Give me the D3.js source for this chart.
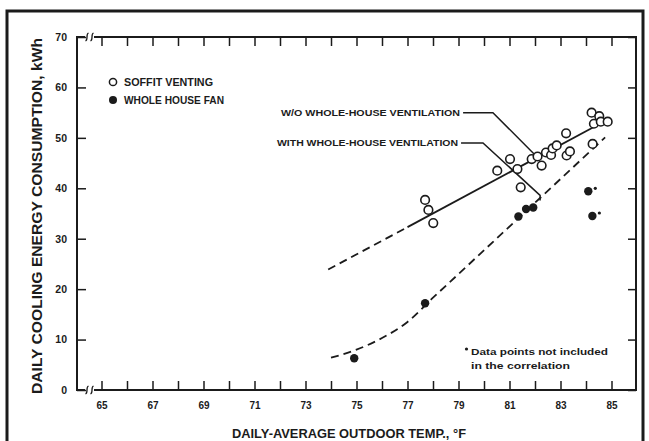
<!DOCTYPE html>
<html>
<head>
<meta charset="utf-8">
<script src="https://cdn.jsdelivr.net/npm/d3@7"></script>
<style>
  body { margin: 0; background: #fff; }
  text { font-family: "Liberation Sans", Arial, sans-serif; fill: #1b1b1b; }
</style>
</head>
<body>
<div id="chart"></div>
<script>
// Soffit venting (open circles)
const soffitTemp = [77.69, 77.82, 78.01, 80.52, 81.02, 81.31, 81.44, 81.87, 82.1, 82.26, 82.43, 82.63,
                    82.69, 82.85, 83.22, 83.24, 83.37, 84.26, 84.22, 84.52, 84.31, 84.58, 84.85];
const soffitKwh  = [37.7, 35.7, 33.1, 43.5, 45.8, 43.8, 40.2, 45.8, 46.3, 44.5, 47.1, 46.6,
                    47.9, 48.5, 50.9, 46.5, 47.3, 48.8, 55.0, 54.3, 52.8, 53.2, 53.2];

// Whole house fan (filled circles)
const fanTemp = [74.91, 77.69, 81.35, 81.65, 81.93];
const fanKwh  = [6.3, 17.2, 34.4, 35.9, 36.2];

// Fan points not included in the correlation
const excludedTemp = [84.09, 84.25];
const excludedKwh  = [39.4, 34.5];

// Correlation lines
const withoutVentTemp = [73.89, 77.0, 84.29];
const withoutVentKwh  = [23.9, 32.3, 52.1];
const withVentTemp = [74, 75, 76, 77, 78, 79, 84.75];
const withVentKwh  = [6.4, 8.0, 10.3, 13.5, 18.3, 23.0, 50.1];

// Axis ticks
const tempTicks = d3.range(65, 86);
const tempLabels = [65, 67, 69, 71, 73, 75, 77, 79, 81, 83, 85];
const kwhTicks = [0, 10, 20, 30, 40, 50, 60, 70];

const width = 649;
const height = 441;
const ink = "#1b1b1b";

const svg = d3.select("#chart").append("svg")
  .attr("width", width)
  .attr("height", height);

svg.append("rect").attr("width", width).attr("height", height).attr("fill", "#fff");

// outer border
svg.append("rect")
  .attr("x", 7).attr("y", 11)
  .attr("width", 636).attr("height", 445)
  .attr("fill", "none").attr("stroke", ink).attr("stroke-width", 3);

const plot = { left: 77, right: 636, top: 37, bottom: 390 };

const x = d3.scaleLinear().domain([65, 85]).range([101.5, 611.5]);
const y = d3.scaleLinear().domain([0, 70]).range([plot.bottom, plot.top]);

// plot frame
svg.append("rect")
  .attr("x", plot.left).attr("y", plot.top)
  .attr("width", plot.right - plot.left).attr("height", plot.bottom - plot.top)
  .attr("fill", "none").attr("stroke", ink).attr("stroke-width", 2);

// axis breaks
[plot.bottom, plot.top].forEach(yy => {
  svg.append("rect").attr("x", 85).attr("y", yy - 3).attr("width", 10).attr("height", 6).attr("fill", "#fff");
  [86.5, 91.5].forEach(xx => {
    svg.append("path")
      .attr("d", `M${xx - 1},${yy + 4} C${xx + 2},${yy + 3} ${xx - 1},${yy - 3} ${xx + 2},${yy - 4}`)
      .attr("fill", "none").attr("stroke", ink).attr("stroke-width", 1.3);
  });
  svg.append("line").attr("x1", 94).attr("x2", 97).attr("y1", yy).attr("y2", yy)
    .attr("stroke", ink).attr("stroke-width", 2);
});

function styleAxis(g) {
  g.select(".domain").remove();
  g.selectAll(".tick line").attr("stroke", ink).attr("stroke-width", 1.5);
  g.selectAll(".tick text")
    .attr("fill", ink)
    .style("font-family", "'Liberation Sans', Arial, sans-serif")
    .style("font-weight", "bold");
}

svg.append("g")
  .attr("transform", `translate(0,${plot.bottom})`)
  .call(d3.axisBottom(x).tickValues(tempTicks).tickSize(-9).tickPadding(12)
    .tickFormat(d => tempLabels.includes(d) ? d : ""))
  .call(styleAxis)
  .selectAll("text").style("font-size", "10px");

svg.append("g")
  .attr("transform", `translate(0,${plot.top})`)
  .call(d3.axisTop(x).tickValues(tempTicks).tickSize(-9).tickFormat(""))
  .call(styleAxis);

svg.append("g")
  .attr("transform", `translate(${plot.left},0)`)
  .call(d3.axisLeft(y).tickValues(kwhTicks).tickSize(-9).tickPadding(10))
  .call(styleAxis)
  .selectAll("text").style("font-size", "10.5px");

svg.append("g")
  .attr("transform", `translate(${plot.right},0)`)
  .call(d3.axisRight(y).tickValues(kwhTicks).tickSize(-8).tickFormat(""))
  .call(styleAxis);

// axis titles
svg.append("text")
  .attr("x", 349).attr("y", 438)
  .attr("text-anchor", "middle")
  .attr("textLength", 234).attr("lengthAdjust", "spacingAndGlyphs")
  .style("font-size", "13px").style("font-weight", "bold")
  .text("DAILY-AVERAGE OUTDOOR TEMP., °F");

svg.append("text")
  .attr("transform", "translate(42,216) rotate(-90)")
  .attr("text-anchor", "middle")
  .attr("textLength", 356).attr("lengthAdjust", "spacingAndGlyphs")
  .style("font-size", "14px").style("font-weight", "bold")
  .text("DAILY COOLING ENERGY CONSUMPTION, kWh");

// correlation lines
const line = d3.line().x(d => x(d[0])).y(d => y(d[1]));
const withoutVent = withoutVentTemp.map((t, i) => [t, withoutVentKwh[i]]);

svg.append("path")
  .attr("d", line(withoutVent.slice(0, 2)))
  .attr("fill", "none").attr("stroke", ink).attr("stroke-width", 1.8)
  .attr("stroke-dasharray", "8,5");

svg.append("path")
  .attr("d", line(withoutVent.slice(1)))
  .attr("fill", "none").attr("stroke", ink).attr("stroke-width", 1.8);

svg.append("path")
  .attr("d", line.curve(d3.curveMonotoneX)(withVentTemp.map((t, i) => [t, withVentKwh[i]])))
  .attr("fill", "none").attr("stroke", ink).attr("stroke-width", 1.8)
  .attr("stroke-dasharray", "8,5");

// leaders for labels
const leader = d3.line().x(d => x(d[0])).y(d => y(d[1]));
svg.append("path")
  .attr("d", leader([[79.18, 55.0], [80.35, 55.0], [82.1, 46.1]]))
  .attr("fill", "none").attr("stroke", ink).attr("stroke-width", 1.5);
svg.append("path")
  .attr("d", leader([[79.1, 49.0], [79.96, 49.0], [82.2, 38.6], [82.2, 37.6]]))
  .attr("fill", "none").attr("stroke", ink).attr("stroke-width", 1.5);

svg.append("text")
  .attr("x", x(79.06)).attr("y", y(55.0) + 3.5)
  .attr("text-anchor", "end")
  .attr("textLength", 179).attr("lengthAdjust", "spacingAndGlyphs")
  .style("font-size", "9.5px").style("font-weight", "bold")
  .text("W/O WHOLE-HOUSE VENTILATION");

svg.append("text")
  .attr("x", x(78.98)).attr("y", y(49.0) + 3.5)
  .attr("text-anchor", "end")
  .attr("textLength", 181).attr("lengthAdjust", "spacingAndGlyphs")
  .style("font-size", "9.5px").style("font-weight", "bold")
  .text("WITH WHOLE-HOUSE VENTILATION");

// points
svg.selectAll(".soffit")
  .data(soffitTemp.map((t, i) => [t, soffitKwh[i]]))
  .enter().append("circle")
  .attr("class", "soffit")
  .attr("cx", d => x(d[0])).attr("cy", d => y(d[1]))
  .attr("r", 4.3)
  .attr("fill", "#fff").attr("stroke", ink).attr("stroke-width", 1.6);

svg.selectAll(".fan")
  .data(fanTemp.map((t, i) => [t, fanKwh[i]]))
  .enter().append("circle")
  .attr("class", "fan")
  .attr("cx", d => x(d[0])).attr("cy", d => y(d[1]))
  .attr("r", 4.2)
  .attr("fill", ink);

const excluded = excludedTemp.map((t, i) => [t, excludedKwh[i]]);
svg.selectAll(".excluded")
  .data(excluded)
  .enter().append("circle")
  .attr("class", "excluded")
  .attr("cx", d => x(d[0])).attr("cy", d => y(d[1]))
  .attr("r", 4.2)
  .attr("fill", ink);
svg.selectAll(".asterisk")
  .data(excluded)
  .enter().append("circle")
  .attr("class", "asterisk")
  .attr("cx", d => x(d[0]) + 7).attr("cy", d => y(d[1]) - 3)
  .attr("r", 1.6)
  .attr("fill", ink);

// legend
const legend = svg.append("g").attr("transform", "translate(113,82)");
legend.append("circle").attr("r", 3.6).attr("fill", "#fff").attr("stroke", ink).attr("stroke-width", 1.5);
legend.append("text").attr("x", 11).attr("y", 3.6)
  .style("font-size", "10px").style("font-weight", "bold")
  .attr("textLength", 89).attr("lengthAdjust", "spacingAndGlyphs")
  .text("SOFFIT VENTING");
legend.append("circle").attr("cy", 18).attr("r", 4).attr("fill", ink);
legend.append("text").attr("x", 11).attr("y", 21.6)
  .style("font-size", "10px").style("font-weight", "bold")
  .attr("textLength", 100).attr("lengthAdjust", "spacingAndGlyphs")
  .text("WHOLE HOUSE FAN");

// footnote
svg.append("circle").attr("cx", 466.5).attr("cy", 349).attr("r", 1.6).attr("fill", ink);
svg.append("text").attr("x", 471).attr("y", 355)
  .style("font-size", "9.5px").style("font-weight", "bold")
  .attr("textLength", 137).attr("lengthAdjust", "spacingAndGlyphs")
  .text("Data points not included");
svg.append("text").attr("x", 471).attr("y", 369)
  .style("font-size", "9.5px").style("font-weight", "bold")
  .attr("textLength", 99).attr("lengthAdjust", "spacingAndGlyphs")
  .text("in the correlation");
</script>
</body>
</html>
